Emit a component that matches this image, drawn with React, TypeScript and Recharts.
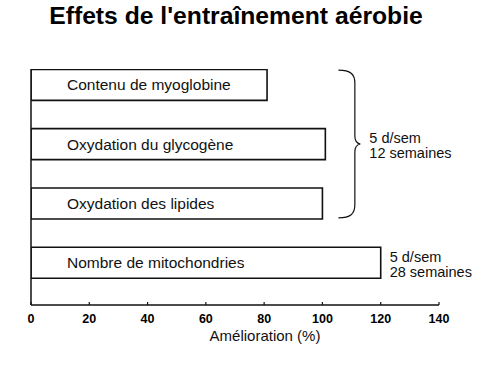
import React from 'react';
import { BarChart, Bar, XAxis, YAxis, LabelList, ReferenceArea } from 'recharts';

const title = "Effets de l'entraînement aérobie";
const categories = [
  'Contenu de myoglobine',
  'Oxydation du glycogène',
  'Oxydation des lipides',
  'Nombre de mitochondries',
];
const improvements = [81, 101, 100, 120];
const xTicks = [0, 20, 40, 60, 80, 100, 120, 140];
const xLabel = 'Amélioration (%)';
const protocol12 = ['5 d/sem', '12 semaines'];
const protocol28 = ['5 d/sem', '28 semaines'];
const notes = [null, null, null, protocol28];
// brace groups rows 0..2 (12-week protocol)
const braceRows = [0, 2];

// rows are placed top-down (vertical layout maps the smallest row to the top)
const data = categories.map((name, i) => ({
  name,
  row: i,
  value: improvements[i],
  note: notes[i],
}));

const FONT = '"Liberation Sans", Arial, Helvetica, sans-serif';
const INK = '#111';
const NOTE_SIZE = 14.5;
const NOTE_GAP = 15;

const Brace = (props: any) => {
  const { x, y, width: w, height: h } = props;
  const xm = x + w * 0.75;
  const mid = y + h / 2;
  const r = 13;
  const d =
    `M${x},${y} C${x + w * 0.55},${y} ${xm},${y + 4} ${xm},${y + r} ` +
    `L${xm},${mid - 8} Q${xm},${mid - 1} ${x + w},${mid} ` +
    `Q${xm},${mid + 1} ${xm},${mid + 8} ` +
    `L${xm},${y + h - r} C${xm},${y + h - 4} ${x + w * 0.55},${y + h} ${x},${y + h}`;
  return (
    <g>
      <path d={d} fill="none" stroke={INK} strokeWidth={1.2} />
      <text x={x + w + 9} y={mid - 1.5} fontSize={NOTE_SIZE} fill={INK} fontFamily={FONT}>
        {protocol12[0]}
      </text>
      <text x={x + w + 9} y={mid - 1.5 + NOTE_GAP} fontSize={NOTE_SIZE} fill={INK} fontFamily={FONT}>
        {protocol12[1]}
      </text>
    </g>
  );
};

const NoteLabel = (props: any) => {
  const { x, y, width, height, value } = props;
  if (!value) return null;
  const lines = value as string[];
  return (
    <g>
      <text x={x + width + 9} y={y + height / 2 - 0.5} fontSize={NOTE_SIZE} fill={INK} fontFamily={FONT}>
        {lines[0]}
      </text>
      <text
        x={x + width + 9}
        y={y + height / 2 - 0.5 + NOTE_GAP}
        fontSize={NOTE_SIZE}
        fill={INK}
        fontFamily={FONT}
      >
        {lines[1]}
      </text>
    </g>
  );
};

export default function App() {
  return (
    <div
      style={{
        position: 'absolute',
        left: 0,
        top: 0,
        width: 483,
        height: 369,
        background: '#fff',
        fontFamily: FONT,
      }}
    >
      <div
        style={{
          position: 'absolute',
          left: 0,
          top: 4,
          width: 472,
          textAlign: 'center',
          fontSize: 24.7,
          lineHeight: 1,
          fontWeight: 'bold',
          color: '#000',
          whiteSpace: 'nowrap',
        }}
      >
        {title}
      </div>
      <BarChart
        width={483}
        height={369}
        data={data}
        layout="vertical"
        margin={{ top: 69, right: 44, bottom: 4, left: 30 }}
      >
        <XAxis
          type="number"
          dataKey="value"
          domain={[0, 140]}
          ticks={xTicks}
          allowDataOverflow
          height={60}
          axisLine={{ stroke: INK, strokeWidth: 1.5 }}
          tickLine={{ stroke: INK, strokeWidth: 1.2 }}
          tickSize={-3}
          tickMargin={12}
          tick={{ fontSize: 12.5, fontWeight: 'bold', fill: '#000', fontFamily: FONT }}
          label={{
            value: xLabel,
            position: 'insideBottom',
            offset: 24,
            dx: 30,
            fontSize: 15,
            fill: INK,
            fontFamily: FONT,
          }}
        />
        <YAxis
          type="number"
          dataKey="row"
          domain={[-0.27, 3.71]}
          ticks={[0, 1, 2, 3]}
          allowDataOverflow
          width={1}
          tick={false}
          tickLine={false}
          axisLine={{ stroke: INK, strokeWidth: 1.5 }}
        />
        <Bar
          dataKey="value"
          fill="#fff"
          stroke={INK}
          strokeWidth={1.6}
          barSize={31}
          isAnimationActive={false}
        >
          <LabelList
            dataKey="name"
            position="insideLeft"
            offset={36}
            fontSize={15.5}
            fill={INK}
            fontFamily={FONT}
          />
          <LabelList dataKey="note" content={NoteLabel} />
        </Bar>
        <ReferenceArea
          x1={105.5}
          x2={113}
          y1={braceRows[0] - 0.25}
          y2={braceRows[1] + 0.24}
          shape={Brace}
          ifOverflow="visible"
        />
      </BarChart>
    </div>
  );
}
